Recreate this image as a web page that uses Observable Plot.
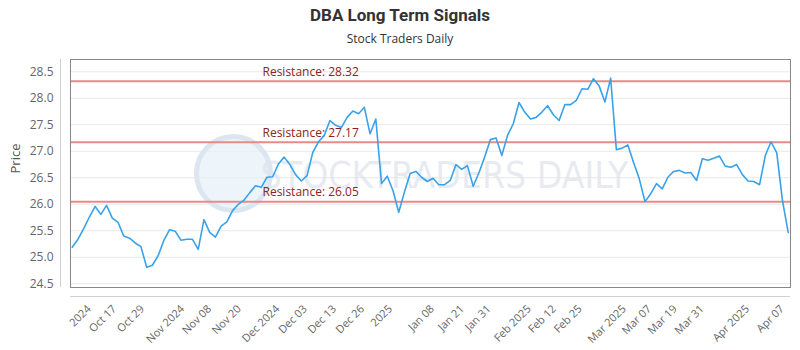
<!DOCTYPE html>
<html>
<head>
<meta charset="utf-8">
<script src="https://cdn.jsdelivr.net/npm/d3@7"></script>
<script src="https://cdn.jsdelivr.net/npm/@observablehq/plot@0.6"></script>
<style>
  html, body { margin: 0; padding: 0; background: #fff; }
  #wrap { width: 800px; }
  .title { height: 28px; line-height: 30px; text-align: center; font-family: Roboto, "Open Sans", sans-serif; font-weight: bold; font-size: 17px; color: #333; }
  .sub { height: 22px; line-height: 22px; text-align: center; font-family: "Open Sans", sans-serif; font-size: 12px; color: #333; }
  svg { display: block; }
</style>
</head>
<body>
<div id="wrap">
  <div class="title">DBA Long Term Signals</div>
  <div class="sub">Stock Traders Daily</div>
  <div id="chart"></div>
</div>
<script>
// Price series (one value per point)
const prices = [
  25.19, 25.34, 25.54, 25.76, 25.96, 25.81, 25.98, 25.74, 25.66, 25.40,
  25.36, 25.27, 25.20, 24.81, 24.85, 25.03, 25.32, 25.52, 25.49, 25.32,
  25.34, 25.34, 25.15, 25.71, 25.47, 25.38, 25.59, 25.67, 25.88, 26.00,
  26.08, 26.22, 26.35, 26.32, 26.51, 26.52, 26.76, 26.89, 26.75, 26.56,
  26.44, 26.54, 26.98, 27.18, 27.30, 27.58, 27.49, 27.45, 27.64, 27.76,
  27.71, 27.83, 27.33, 27.61, 26.39, 26.53, 26.26, 25.85, 26.23, 26.58,
  26.62, 26.51, 26.43, 26.49, 26.37, 26.37, 26.45, 26.75, 26.66, 26.73,
  26.34, 26.59, 26.89, 27.22, 27.25, 26.92, 27.30, 27.52, 27.92, 27.74,
  27.61, 27.64, 27.74, 27.86, 27.69, 27.58, 27.88, 27.88, 27.96, 28.18,
  28.17, 28.37, 28.23, 27.93, 28.38, 27.03, 27.06, 27.12, 26.79, 26.48,
  26.05, 26.20, 26.39, 26.29, 26.51, 26.62, 26.64, 26.59, 26.60, 26.45,
  26.86, 26.83, 26.87, 26.91, 26.72, 26.70, 26.75, 26.56, 26.44, 26.43,
  26.37, 26.92, 27.18, 26.97, 26.07, 25.47
];
const pointIndex = prices.map((_, i) => i);

// Resistance levels
const resistance = [28.32, 27.17, 26.05];

// Y-axis ticks
const yTicks = [24.5, 25.0, 25.5, 26.0, 26.5, 27.0, 27.5, 28.0, 28.5];

// X-axis tick labels and where they sit along the point index
const xTickLabels = ["2024", "Oct 17", "Oct 29", "Nov 2024", "Nov 08", "Nov 20", "Dec 2024", "Dec 03",
  "Dec 13", "Dec 26", "2025", "Jan 08", "Jan 21", "Jan 31", "Feb 2025", "Feb 12", "Feb 25",
  "Mar 2025", "Mar 07", "Mar 19", "Mar 31", "Apr 2025", "Apr 07"];
const xTickAt = [3.4, 7.8, 12.7, 19.7, 24.4, 29.6, 36.3, 41.1, 46.2, 51.1, 56.0, 63.3, 68.5,
  73.2, 80.2, 84.6, 89.1, 96.8, 101.2, 105.7, 110.4, 118.3, 124.4];

const data = pointIndex.map(i => ({i, price: prices[i]}));
const ticks = xTickAt.map((p, k) => ({p, label: xTickLabels[k]}));
const yMin = 24.43, yMax = 28.732;
const xMin = -0.3, xMax = 125.4;

const font = "'Open Sans', sans-serif";

const chart = Plot.plot({
  width: 800,
  height: 300,
  marginTop: 9,
  marginBottom: 63,
  marginLeft: 70,
  marginRight: 10,
  style: {fontFamily: font, fontSize: "11px", color: "#666", background: "#fff"},
  x: {type: "linear", domain: [xMin, xMax], axis: null},
  y: {domain: [yMin, yMax], axis: null},
  marks: [
    Plot.gridY(yTicks, {stroke: "#e8e8e8", strokeOpacity: 1}),
    // watermark
    Plot.dot([0], {frameAnchor: "left", dx: 163, dy: 0, r: 37, fill: "#e6eff8", fillOpacity: 0.7, stroke: "#dbe6f1", strokeWidth: 5}),
    Plot.text(["STOCKTRADERS DAILY"], {frameAnchor: "middle", dx: 14, dy: 3, fontSize: 37, fill: "#dfe5ec", fillOpacity: 0.75, fontFamily: "'DejaVu Sans Condensed', 'Liberation Sans Narrow', sans-serif", text: d => d}),
    Plot.ruleY(resistance, {stroke: "#e88a8a", strokeWidth: 2}),
    Plot.text(resistance, {y: d => d, text: d => `Resistance: ${d.toFixed(2)}`, frameAnchor: "left", dx: 192, dy: -9, textAnchor: "start", fill: "#8b2323", fontSize: 12}),
    Plot.line(data, {x: "i", y: "price", stroke: "#38a2ea", strokeWidth: 1.6}),
    Plot.frame({stroke: "#888"}),
    // offset axis lines
    Plot.ruleY([yMin], {dy: 9, stroke: "#cfcfcf"}),
    Plot.ruleX([xMin], {dx: -10, stroke: "#cfcfcf"}),
    Plot.axisY(yTicks, {anchor: "left", tickSize: 0, tickPadding: 17, tickFormat: d => d.toFixed(1), fill: "#666", fontSize: 12, label: null}),
    Plot.text(["Price"], {frameAnchor: "left", dx: -55, rotate: -90, text: d => d, fill: "#555", fontSize: 13}),
    Plot.text(ticks, {x: "p", text: "label", frameAnchor: "bottom", dy: 22, rotate: -45, textAnchor: "end", fill: "#666", fontSize: 11})
  ]
});
document.getElementById("chart").appendChild(chart);
</script>
</body>
</html>
